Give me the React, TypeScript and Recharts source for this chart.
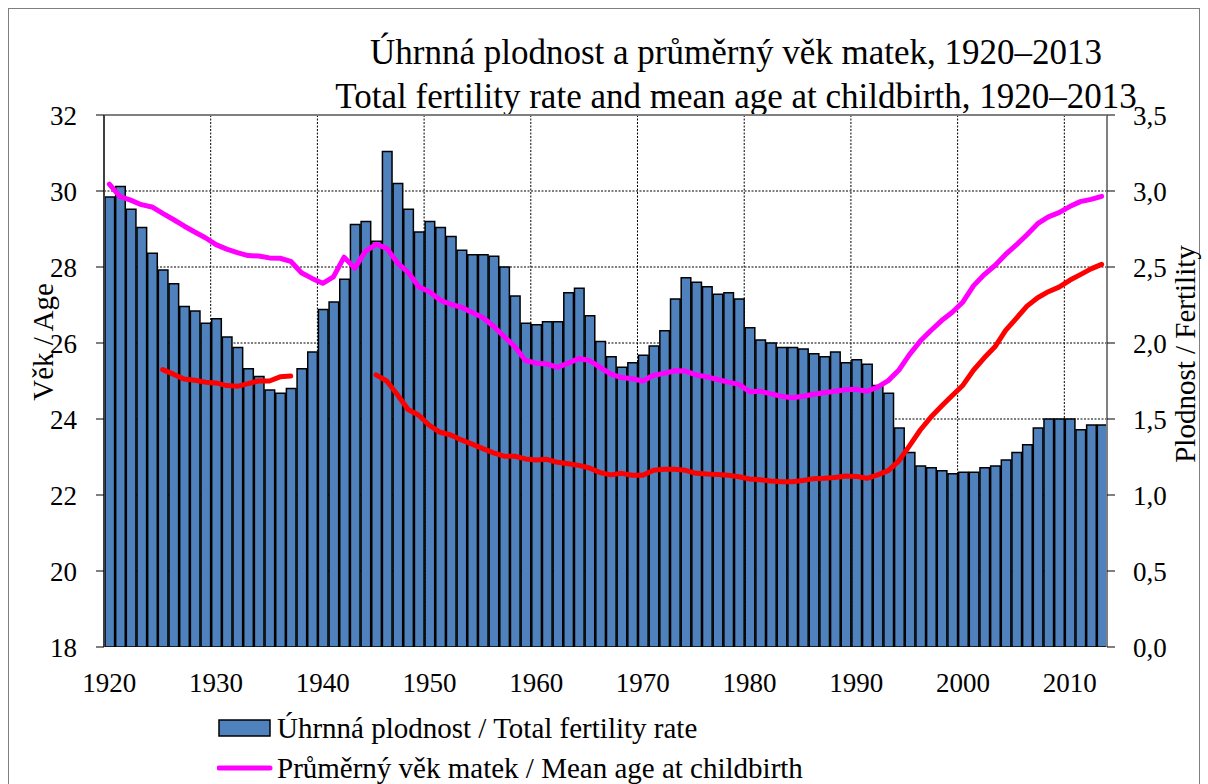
import React from 'react';
import { ComposedChart, Bar, Line, XAxis, YAxis, CartesianGrid, ReferenceLine, Legend } from 'recharts';

const YEARS = [
  1920, 1921, 1922, 1923, 1924, 1925, 1926, 1927, 1928, 1929,
  1930, 1931, 1932, 1933, 1934, 1935, 1936, 1937, 1938, 1939,
  1940, 1941, 1942, 1943, 1944, 1945, 1946, 1947, 1948, 1949,
  1950, 1951, 1952, 1953, 1954, 1955, 1956, 1957, 1958, 1959,
  1960, 1961, 1962, 1963, 1964, 1965, 1966, 1967, 1968, 1969,
  1970, 1971, 1972, 1973, 1974, 1975, 1976, 1977, 1978, 1979,
  1980, 1981, 1982, 1983, 1984, 1985, 1986, 1987, 1988, 1989,
  1990, 1991, 1992, 1993, 1994, 1995, 1996, 1997, 1998, 1999,
  2000, 2001, 2002, 2003, 2004, 2005, 2006, 2007, 2008, 2009,
  2010, 2011, 2012, 2013,
];

// Úhrnná plodnost / Total fertility rate (right axis)
const FERTILITY = [
  2.96, 3.03, 2.88, 2.76, 2.59, 2.48, 2.39, 2.24, 2.21, 2.13,
  2.16, 2.04, 1.97, 1.83, 1.78, 1.69, 1.67, 1.70, 1.83, 1.94,
  2.22, 2.27, 2.42, 2.78, 2.80, 2.67, 3.26, 3.05, 2.88, 2.73,
  2.80, 2.76, 2.70, 2.61, 2.58, 2.58, 2.57, 2.50, 2.31, 2.13,
  2.12, 2.14, 2.14, 2.33, 2.36, 2.18, 2.01, 1.91, 1.84, 1.87,
  1.92, 1.98, 2.08, 2.29, 2.43, 2.40, 2.37, 2.32, 2.33, 2.29,
  2.10, 2.02, 2.00, 1.97, 1.97, 1.96, 1.93, 1.91, 1.94, 1.87,
  1.89, 1.86, 1.72, 1.67, 1.44, 1.28, 1.19, 1.18, 1.16, 1.14,
  1.15, 1.15, 1.18, 1.19, 1.23, 1.28, 1.33, 1.44, 1.50, 1.50,
  1.50, 1.43, 1.46, 1.46,
];

// Průměrný věk matek / Mean age at childbirth (left axis)
const MEAN_AGE = [
  30.18, 29.85, 29.76, 29.64, 29.58, 29.41, 29.25, 29.08, 28.92, 28.77,
  28.59, 28.47, 28.38, 28.30, 28.29, 28.24, 28.23, 28.15, 27.85, 27.70,
  27.57, 27.74, 28.26, 27.97, 28.41, 28.60, 28.49, 28.11, 27.86, 27.48,
  27.35, 27.13, 27.02, 26.94, 26.80, 26.67, 26.44, 26.17, 25.90, 25.54,
  25.47, 25.45, 25.36, 25.47, 25.59, 25.54, 25.36, 25.18, 25.09, 25.06,
  25.00, 25.15, 25.20, 25.27, 25.26, 25.16, 25.11, 25.04, 24.97, 24.91,
  24.72, 24.73, 24.66, 24.60, 24.56, 24.60, 24.65, 24.69, 24.73, 24.77,
  24.78, 24.73, 24.84, 25.01, 25.29, 25.70, 26.05, 26.33, 26.59, 26.81,
  27.08, 27.51, 27.80, 28.04, 28.33, 28.58, 28.85, 29.14, 29.32, 29.43,
  29.59, 29.72, 29.78, 29.86,
];

// Mean age at first birth (left axis, red), gaps where no data
const FIRST_BIRTH_AGE = [
  null, null, null, null, null, 25.30, 25.18, 25.05, 25.02, 24.97,
  24.95, 24.88, 24.86, 24.93, 25.00, 25.00, 25.11, 25.13, null, null,
  null, null, null, null, null, 25.16, 25.00, 24.64, 24.25, 24.10,
  23.83, 23.65, 23.58, 23.45, 23.34, 23.22, 23.11, 23.02, 23.02, 22.95,
  22.92, 22.94, 22.86, 22.82, 22.78, 22.71, 22.59, 22.53, 22.57, 22.52,
  22.52, 22.65, 22.68, 22.68, 22.65, 22.57, 22.55, 22.54, 22.52, 22.48,
  22.42, 22.40, 22.37, 22.35, 22.35, 22.38, 22.43, 22.44, 22.46, 22.50,
  22.49, 22.44, 22.53, 22.64, 22.90, 23.30, 23.71, 24.05, 24.34, 24.62,
  24.89, 25.29, 25.61, 25.90, 26.33, 26.65, 26.97, 27.19, 27.35, 27.47,
  27.65, 27.80, 27.95, 28.07,
];

const AGE_TICKS = [18, 20, 22, 24, 26, 28, 30, 32];
const AGE_GRID = [20, 22, 24, 26, 28, 30];
const FERTILITY_TICKS = [0, 0.5, 1, 1.5, 2, 2.5, 3, 3.5];
const YEAR_TICKS = [1920, 1925, 1930, 1935, 1940, 1945, 1950, 1955, 1960, 1965, 1970, 1975, 1980, 1985, 1990, 1995, 2000, 2005, 2010];
const YEAR_LABELS = [1920, 1930, 1940, 1950, 1960, 1970, 1980, 1990, 2000, 2010];
const YEAR_GRID = [1930, 1940, 1950, 1960, 1970, 1980, 1990, 2000, 2010];

const TITLE_CS = 'Úhrnná plodnost a průměrný věk matek, 1920–2013';
const TITLE_EN = 'Total fertility rate and mean age at childbirth, 1920–2013';
const LEFT_LABEL = 'Věk / Age';
const RIGHT_LABEL = 'Plodnost / Fertility';
const NAME_TFR = 'Úhrnná plodnost / Total fertility rate';
const NAME_AGE = 'Průměrný věk matek / Mean age at childbirth';
const NAME_FIRST = 'Průměrný věk matek při narození 1. dítěte';
const LEGEND_ORDER = [NAME_TFR, NAME_AGE];

const FONT = '"Liberation Serif", "Times New Roman", serif';
const W = 1208;
const H = 784;
const PLOT_LEFT = 104;
const PLOT_RIGHT = 1107;
const PLOT_TOP = 115;
const PLOT_BOTTOM = 647;
const BAR_SIZE = (PLOT_RIGHT - PLOT_LEFT) / YEARS.length;

const data = YEARS.map((y, i) => ({
  x: y + 0.5,
  year: y,
  tfr: FERTILITY[i],
  age: MEAN_AGE[i],
  first: FIRST_BIRTH_AGE[i],
}));

const fmtComma = (v: number) => v.toFixed(1).replace('.', ',');

const renderLegend = (props: any) => {
  const payload = (props.payload || [])
    .filter((p: any) => LEGEND_ORDER.includes(p.value))
    .sort((a: any, b: any) => LEGEND_ORDER.indexOf(a.value) - LEGEND_ORDER.indexOf(b.value));
  return (
    <div style={{ fontFamily: FONT, fontSize: 29, color: '#000' }}>
      {payload.map((entry: any, i: number) => (
        <div key={i} style={{ display: 'flex', alignItems: 'center', height: 40, whiteSpace: 'nowrap' }}>
          <svg width={60} height={24} style={{ flex: 'none' }}>
            {entry.type === 'rect' ? (
              <rect x={2} y={4} width={51} height={16} fill={entry.color} stroke="#000" strokeWidth={1.5} />
            ) : (
              <line x1={2} x2={53} y1={12} y2={12} stroke={entry.color} strokeWidth={5} strokeLinecap="round" />
            )}
          </svg>
          <span>{entry.value}</span>
        </div>
      ))}
    </div>
  );
};

export default function App() {
  return (
    <div style={{ position: 'relative', width: W, height: H, overflow: 'hidden', background: '#fff', fontFamily: FONT }}>
      <style>{'body{margin:0;}'}</style>
      <div style={{ position: 'absolute', left: 8, top: 8, width: 1190, height: 900, border: '1px solid #7f7f7f' }} />
      <div style={{ position: 'absolute', left: 0, top: 0 }}>
        <ComposedChart
          width={W}
          height={H}
          data={data}
          margin={{ top: PLOT_TOP, right: 0, bottom: 0, left: 0 }}
          style={{ fontFamily: FONT }}
        >
          <CartesianGrid
            xAxisId="yr"
            yAxisId="age"
            stroke="#000"
            strokeDasharray="2 1.5"
            strokeWidth={1}
            verticalValues={YEAR_GRID}
            horizontalValues={AGE_GRID}
          />
          <XAxis
            xAxisId="yr"
            type="number"
            dataKey="x"
            domain={[1920, 2014]}
            ticks={YEAR_TICKS}
            interval={0}
            tickFormatter={() => ''}
            tickSize={8}
            height={0}
            allowDataOverflow
            axisLine={{ stroke: '#000', strokeWidth: 2 }}
            tickLine={{ stroke: '#000', strokeWidth: 1 }}
          />
          <XAxis
            xAxisId="lbl"
            type="number"
            dataKey="x"
            domain={[1920, 2014]}
            ticks={YEAR_LABELS.map((v) => v + 0.5)}
            interval={0}
            tickFormatter={(v: number) => String(Math.floor(v))}
            tickSize={8}
            tickMargin={18}
            height={H - PLOT_BOTTOM}
            allowDataOverflow
            axisLine={false}
            tickLine={false}
            tick={{ fill: '#000', fontSize: 27, fontFamily: FONT }}
          />
          <YAxis
            yAxisId="age"
            orientation="left"
            domain={[18, 32]}
            ticks={AGE_TICKS}
            interval={0}
            width={PLOT_LEFT}
            tickSize={8}
            tickMargin={19}
            allowDataOverflow
            axisLine={{ stroke: '#404040', strokeWidth: 2 }}
            tickLine={{ stroke: '#000', strokeWidth: 1 }}
            tick={{ fill: '#000', fontSize: 27, fontFamily: FONT }}
          />
          <YAxis
            yAxisId="tfr"
            orientation="right"
            domain={[0, 3.5]}
            ticks={FERTILITY_TICKS}
            interval={0}
            width={W - PLOT_RIGHT}
            tickSize={8}
            tickMargin={18}
            allowDataOverflow
            tickFormatter={fmtComma}
            axisLine={{ stroke: '#808080', strokeWidth: 2 }}
            tickLine={{ stroke: '#000', strokeWidth: 1 }}
            tick={{ fill: '#000', fontSize: 27, fontFamily: FONT }}
          />
          <ReferenceLine xAxisId="yr" yAxisId="age" y={32} stroke="#808080" strokeWidth={2} />
          <Bar
            xAxisId="yr"
            yAxisId="tfr"
            dataKey="tfr"
            name={NAME_TFR}
            fill="#4F81BD"
            stroke="#000"
            strokeWidth={1.5}
            barSize={BAR_SIZE}
            isAnimationActive={false}
          />
          <Line
            xAxisId="yr"
            yAxisId="age"
            dataKey="age"
            name={NAME_AGE}
            type="linear"
            stroke="#FF00FF"
            strokeWidth={5}
            strokeLinecap="round"
            strokeLinejoin="round"
            dot={false}
            activeDot={false}
            isAnimationActive={false}
          />
          <Line
            xAxisId="yr"
            yAxisId="age"
            dataKey="first"
            name={NAME_FIRST}
            type="linear"
            stroke="#FF0000"
            strokeWidth={5}
            strokeLinecap="round"
            strokeLinejoin="round"
            dot={false}
            activeDot={false}
            legendType="none"
            isAnimationActive={false}
          />
          <Legend
            layout="vertical"
            align="center"
            verticalAlign="middle"
            content={renderLegend}
            wrapperStyle={{ position: 'absolute', left: 217, top: 708, width: 'auto', height: 'auto' }}
          />
          <text x={736} y={64} textAnchor="middle" fontSize={35} fill="#000" fontFamily={FONT}>{TITLE_CS}</text>
          <text x={736} y={108} textAnchor="middle" fontSize={35} fill="#000" fontFamily={FONT}>{TITLE_EN}</text>
          <text x={53} y={342} transform="rotate(-90 53 342)" textAnchor="middle" fontSize={29} fill="#000" fontFamily={FONT}>{LEFT_LABEL}</text>
          <text x={1195} y={354} transform="rotate(-90 1195 354)" textAnchor="middle" fontSize={29} fill="#000" fontFamily={FONT}>{RIGHT_LABEL}</text>
        </ComposedChart>
      </div>
    </div>
  );
}
